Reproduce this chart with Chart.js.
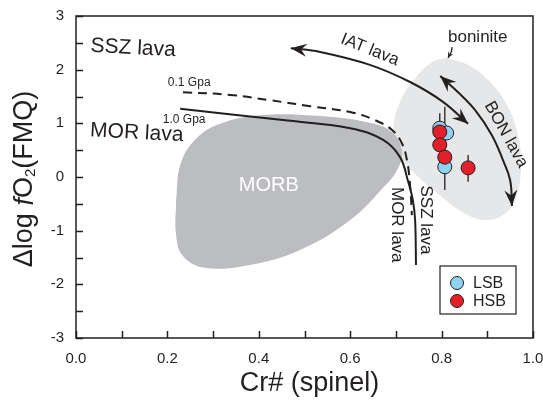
<!DOCTYPE html>
<html>
<head>
<meta charset="utf-8">
<script src="https://cdn.jsdelivr.net/npm/chart.js@4.4.0/dist/chart.umd.min.js"></script>
<style>
  html, body { margin: 0; padding: 0; background: #fff; }
</style>
</head>
<body>
<canvas id="crChart" width="543" height="401"></canvas>
<script>
// axis ticks
const xTickValues = [0, 0.1, 0.2, 0.3, 0.4, 0.5, 0.6, 0.7, 0.8, 0.9, 1.0];
const xTickLabels = ['0.0', '', '0.2', '', '0.4', '', '0.6', '', '0.8', '', '1.0'];
const yTickValues = [-3, -2.5, -2, -1.5, -1, -0.5, 0, 0.5, 1, 1.5, 2, 2.5, 3];
const yTickLabels = ['-3', '', '-2', '', '-1', '', '0', '', '1', '', '2', '', '3'];

// samples
const lsbX = [0.796, 0.811, 0.807];
const lsbY = [0.91, 0.82, 0.19];
const hsbX = [0.796, 0.796, 0.807, 0.858];
const hsbY = [0.84, 0.60, 0.37, 0.17];
// vertical error bars
const errX = [0.807, 0.796, 0.858];
const errLo = [-0.24, 0.55, -0.09];
const errHi = [1.31, 1.19, 0.41];

// 0.1 GPa (dashed) and 1.0 GPa (solid) boundaries
const gpa01X = [0.234, 0.337, 0.425, 0.512, 0.600, 0.654, 0.691, 0.713, 0.724, 0.731, 0.735];
const gpa01Y = [1.58, 1.53, 1.43, 1.32, 1.21, 1.06, 0.88, 0.63, 0.32, -0.15, -0.71];
const gpa10X = [0.228, 0.453, 0.600, 0.672, 0.709, 0.726, 0.737, 0.742, 0.744];
const gpa10Y = [1.27, 1.06, 0.91, 0.69, 0.37, -0.06, -0.43, -0.80, -1.64];

// MORB field outline
const morbX = [0.219, 0.228, 0.260, 0.315, 0.403, 0.527, 0.637, 0.691, 0.713, 0.705, 0.672, 0.600, 0.490, 0.380, 0.282, 0.234, 0.219];
const morbY = [-0.43, 0.22, 0.69, 0.99, 1.15, 1.14, 1.02, 0.84, 0.50, 0.17, -0.20, -0.80, -1.36, -1.64, -1.69, -1.47, -1.08];

// boninite field outline
const bonFieldX = [0.812, 0.862, 0.906, 0.943, 0.967, 0.974, 0.961, 0.934, 0.895, 0.845, 0.790, 0.735, 0.700, 0.694, 0.709, 0.746, 0.779];
const bonFieldY = [2.22, 2.07, 1.77, 1.34, 0.78, 0.22, -0.43, -0.71, -0.80, -0.65, -0.30, 0.12, 0.50, 0.86, 1.40, 1.88, 2.14];

// trend arrows
const iatX = [0.470, 0.534, 0.643, 0.731, 0.803, 0.858];
const iatY = [2.40, 2.33, 2.09, 1.77, 1.40, 0.99];
const bonX = [0.797, 0.836, 0.873, 0.910, 0.934, 0.950, 0.954];
const bonY = [1.88, 1.58, 1.25, 0.78, 0.32, -0.06, -0.54];
const pointerX = [0.823, 0.821, 0.814];
const pointerY = [2.42, 2.33, 2.22];

const FONT = '"Liberation Sans", Arial, Helvetica, sans-serif';
const INK = '#231f20';

const pts = (xs, ys) => xs.map((x, i) => ({ x: x, y: ys[i] }));
const closed = (xs, ys) => { const p = pts(xs, ys); p.push(p[0]); return p; };

const textLabels = [
  { t: 'SSZ lava', x: 0.125, y: 2.40, size: 21, rot: 3 },
  { t: 'MOR lava', x: 0.133, y: 0.82, size: 21, rot: 3 },
  { t: '0.1 Gpa', x: 0.201, y: 1.76, size: 12, align: 'left' },
  { t: '1.0 Gpa', x: 0.190, y: 1.06, size: 12, align: 'left' },
  { t: 'IAT lava', x: 0.643, y: 2.37, size: 17, rot: 22 },
  { t: 'boninite', x: 0.814, y: 2.61, size: 17, align: 'left' },
  { t: 'BON lava', x: 0.941, y: 0.79, size: 17, rot: 61 },
  { t: 'MOR lava', x: 0.702, y: -0.89, size: 17, rot: 90 },
  { t: 'SSZ lava', x: 0.766, y: -0.80, size: 17, rot: 90 },
  { t: 'MORB', x: 0.422, y: -0.15, size: 20, color: '#ffffff' }
];

function arrowHead(ctx, x, y, fx, fy, len, half) {
  const a = Math.atan2(y - fy, x - fx);
  ctx.save();
  ctx.translate(x, y);
  ctx.rotate(a);
  ctx.beginPath();
  ctx.moveTo(0, 0);
  ctx.lineTo(-len, -half);
  ctx.lineTo(-len * 0.65, 0);
  ctx.lineTo(-len, half);
  ctx.closePath();
  ctx.fillStyle = INK;
  ctx.fill();
  ctx.restore();
}

const decorPlugin = {
  id: 'decor',
  afterDatasetsDraw(chart) {
    const ctx = chart.ctx;
    const area = chart.chartArea;
    const xs = chart.scales.x, ys = chart.scales.y;

    // arrow heads on trend lines
    chart.data.datasets.forEach((ds, i) => {
      if (!ds.arrows) return;
      const el = chart.getDatasetMeta(i).data;
      const n = el.length;
      const s = ds.arrows.size || [16, 6.5];
      arrowHead(ctx, el[n - 1].x, el[n - 1].y, el[n - 2].x, el[n - 2].y, s[0], s[1]);
      if (ds.arrows.both) arrowHead(ctx, el[0].x, el[0].y, el[1].x, el[1].y, s[0], s[1]);
    });

    // text annotations
    textLabels.forEach(l => {
      ctx.save();
      ctx.translate(xs.getPixelForValue(l.x), ys.getPixelForValue(l.y));
      ctx.rotate((l.rot || 0) * Math.PI / 180);
      ctx.font = l.size + 'px ' + FONT;
      ctx.fillStyle = l.color || INK;
      ctx.textAlign = l.align || 'center';
      ctx.textBaseline = 'middle';
      ctx.fillText(l.t, 0, 0);
      ctx.restore();
    });

    // frame and inward ticks
    ctx.save();
    ctx.strokeStyle = INK;
    ctx.lineWidth = 1.5;
    ctx.strokeRect(area.left, area.top, area.right - area.left, area.bottom - area.top);
    ctx.beginPath();
    xs.ticks.forEach(t => {
      const px = Math.round(xs.getPixelForValue(t.value)) + 0.5;
      ctx.moveTo(px, area.bottom);
      ctx.lineTo(px, area.bottom - 7);
    });
    ys.ticks.forEach(t => {
      const py = Math.round(ys.getPixelForValue(t.value)) + 0.5;
      ctx.moveTo(area.left, py);
      ctx.lineTo(area.left + 7, py);
    });
    ctx.stroke();
    ctx.restore();

    // legend
    const lx = 440, ly = 266, lw = 76, lh = 48;
    ctx.save();
    ctx.fillStyle = '#fff';
    ctx.fillRect(lx, ly, lw, lh);
    ctx.strokeStyle = INK;
    ctx.lineWidth = 1.2;
    ctx.strokeRect(lx, ly, lw, lh);
    const entries = chart.data.datasets.filter(d => d.legend);
    entries.forEach((d, k) => {
      const cy = ly + 17 + k * 18;
      ctx.beginPath();
      ctx.arc(lx + 17, cy, 6.5, 0, Math.PI * 2);
      ctx.fillStyle = d.backgroundColor;
      ctx.fill();
      ctx.lineWidth = 1;
      ctx.strokeStyle = INK;
      ctx.stroke();
      ctx.fillStyle = INK;
      ctx.font = '16px ' + FONT;
      ctx.textAlign = 'left';
      ctx.textBaseline = 'middle';
      ctx.fillText(d.label, lx + 33, cy + 1);
    });
    ctx.restore();

    // axis titles
    ctx.save();
    ctx.fillStyle = INK;
    ctx.font = '27px ' + FONT;
    ctx.textAlign = 'center';
    ctx.textBaseline = 'middle';
    ctx.fillText('Cr# (spinel)', (area.left + area.right) / 2 + 5, 384);

    const parts = [
      { t: '\u0394log ', f: '27px ' + FONT, dy: 0 },
      { t: 'f', f: 'italic 27px ' + FONT, dy: 0 },
      { t: 'O', f: '27px ' + FONT, dy: 0 },
      { t: '2', f: '15px ' + FONT, dy: 6 },
      { t: '(FMQ)', f: '27px ' + FONT, dy: 0 }
    ];
    let total = 0;
    parts.forEach(p => { ctx.font = p.f; p.w = ctx.measureText(p.t).width; total += p.w; });
    ctx.translate(25, (area.top + area.bottom) / 2 + 2);
    ctx.rotate(-Math.PI / 2);
    ctx.textAlign = 'left';
    let cx = -total / 2;
    parts.forEach(p => {
      ctx.font = p.f;
      ctx.fillText(p.t, cx, p.dy);
      cx += p.w;
    });
    ctx.restore();
  }
};

const errPoints = [];
errX.forEach((x, i) => {
  errPoints.push({ x: x, y: errLo[i] }, { x: x, y: errHi[i] }, { x: x, y: null });
});

new Chart(document.getElementById('crChart'), {
  type: 'scatter',
  data: {
    datasets: [
      {
        label: 'boninite field', data: closed(bonFieldX, bonFieldY), showLine: true,
        fill: 'shape', backgroundColor: '#e6e7e8', borderWidth: 0, borderColor: 'rgba(0,0,0,0)',
        tension: 0.4, pointRadius: 0, order: 10
      },
      {
        label: 'MORB', data: closed(morbX, morbY), showLine: true,
        fill: 'shape', backgroundColor: '#bcbdc0', borderWidth: 0, borderColor: 'rgba(0,0,0,0)',
        tension: 0.4, pointRadius: 0, order: 9
      },
      {
        label: '0.1 Gpa', data: pts(gpa01X, gpa01Y), showLine: true, borderColor: INK,
        borderWidth: 2, borderDash: [9, 6], tension: 0.4, pointRadius: 0, order: 8
      },
      {
        label: '1.0 Gpa', data: pts(gpa10X, gpa10Y), showLine: true, borderColor: INK,
        borderWidth: 2, tension: 0.4, pointRadius: 0, order: 8
      },
      {
        label: 'IAT lava', data: pts(iatX, iatY), showLine: true, borderColor: INK,
        borderWidth: 2, tension: 0.4, pointRadius: 0, order: 7, arrows: { both: true }
      },
      {
        label: 'BON lava', data: pts(bonX, bonY), showLine: true, borderColor: INK,
        borderWidth: 2, tension: 0.4, pointRadius: 0, order: 7, arrows: { both: true }
      },
      {
        label: 'pointer', data: pts(pointerX, pointerY), showLine: true, borderColor: INK,
        borderWidth: 1.3, tension: 0.4, pointRadius: 0, order: 7, arrows: { size: [6, 3] }
      },
      {
        label: 'err', data: errPoints, showLine: true, spanGaps: false, borderColor: INK,
        borderWidth: 1.3, pointRadius: 0, order: 5
      },
      {
        label: 'LSB', legend: true, data: pts(lsbX, lsbY), backgroundColor: '#8fd3f2',
        borderColor: INK, borderWidth: 1, pointRadius: 7, pointHoverRadius: 7, order: 4
      },
      {
        label: 'HSB', legend: true, data: pts(hsbX, hsbY), backgroundColor: '#e3202a',
        borderColor: INK, borderWidth: 1, pointRadius: 7, pointHoverRadius: 7, order: 3
      }
    ]
  },
  options: {
    responsive: false,
    animation: false,
    devicePixelRatio: 1,
    layout: { padding: { top: 16, right: 10, left: 0, bottom: 0 } },
    plugins: { legend: { display: false }, tooltip: { enabled: false } },
    scales: {
      x: {
        type: 'linear', min: 0, max: 1,
        afterBuildTicks: s => { s.ticks = xTickValues.map(v => ({ value: v })); },
        afterFit: s => { s.height = 63; s.paddingLeft = 0; s.paddingRight = 0; },
        ticks: {
          autoSkip: false, maxRotation: 0, padding: 12, color: INK,
          font: { size: 15, family: FONT },
          callback: (v, i) => xTickLabels[i]
        },
        grid: { drawOnChartArea: false, drawTicks: false },
        border: { display: false }
      },
      y: {
        type: 'linear', min: -3, max: 3,
        afterBuildTicks: s => { s.ticks = yTickValues.map(v => ({ value: v })); },
        afterFit: s => { s.width = 76; s.paddingTop = 0; s.paddingBottom = 0; },
        ticks: {
          autoSkip: false, padding: 12, color: INK,
          font: { size: 15, family: FONT },
          callback: (v, i) => yTickLabels[i]
        },
        grid: { drawOnChartArea: false, drawTicks: false },
        border: { display: false }
      }
    }
  },
  plugins: [decorPlugin]
});
</script>
</body>
</html>
